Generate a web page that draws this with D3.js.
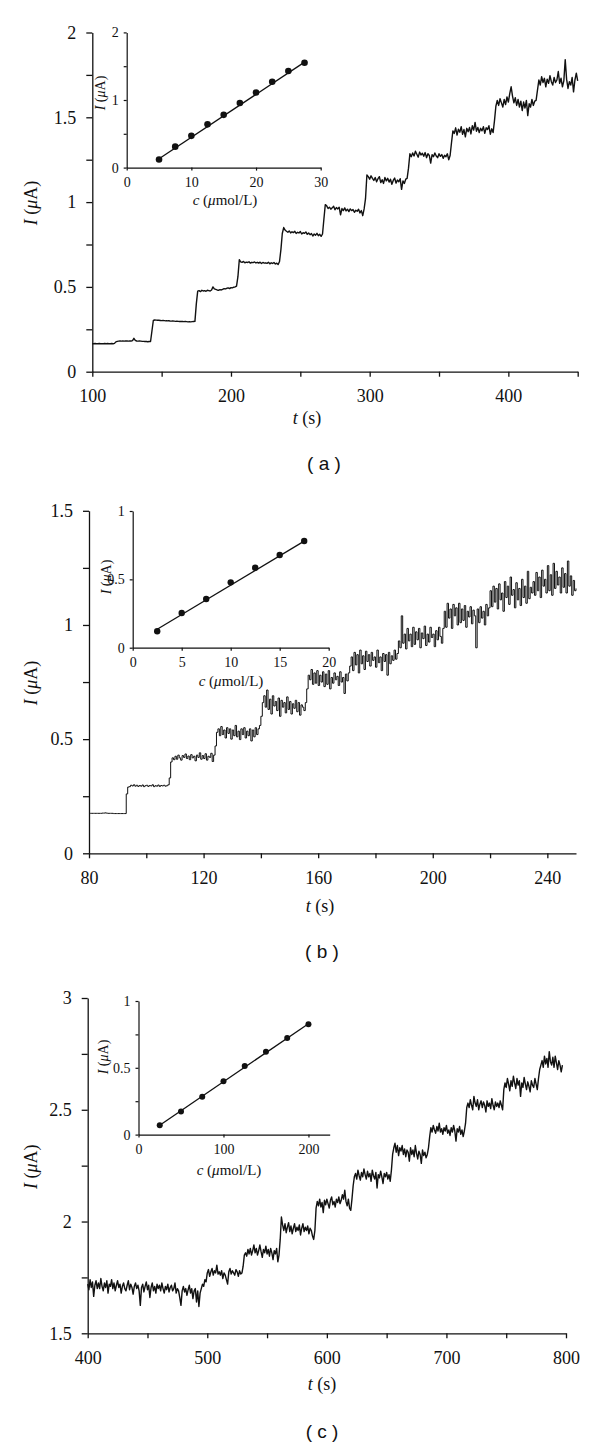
<!DOCTYPE html>
<html><head><meta charset="utf-8">
<script src="https://cdn.jsdelivr.net/npm/d3@7"></script>
<style>
body{margin:0;background:#fff;}
</style></head><body>
<svg id="chart" width="600" height="1446"></svg>
<script>
// ---------------- DATA ----------------
// Panel (a): current in nA, t = 100 .. 450 s, 1 s step
const aT0 = 100, aDt = 1;
const aCurrentNA = [
 165,165,166,165,165,166,165,165,165,166,
 165,166,165,165,166,165,167,
 176,179,180,181,180,181,180,182,181,180,
 181,181,183,197,185,181,180,181,180,179,
 179,178,178,177,178,178,
 240,
 302,305,304,303,303,302,301,302,301,300,
 300,301,299,298,299,298,297,298,297,296,
 296,297,295,296,295,294,295,294,295,296,297,
 400,
 475,478,472,480,476,478,474,480,478,476,
 482,500,488,485,482,480,484,482,486,490,
 488,492,494,490,496,494,498,500,505,
 560,
 660,648,645,650,642,646,644,648,640,645,
 643,647,641,645,640,646,638,644,640,642,
 639,645,636,642,638,644,635,640,632,650,
 720,
 815,850,835,828,822,830,818,825,820,828,
 815,822,818,826,812,820,816,824,810,818,
 808,815,800,812,805,816,802,810,798,812,
 900,
 985,978,962,970,958,966,975,955,968,960,
 970,925,962,950,966,948,958,944,960,950,
 956,940,952,946,958,936,950,920,960,
 1020,
 1160,1150,1135,1155,1140,1128,1145,1120,1138,1150,
 1115,1132,1110,1145,1125,1140,1118,1135,1105,1128,
 1142,1112,1130,1120,1138,1075,1125,1110,1135,1140,
 1200,
 1285,1268,1290,1272,1300,1282,1265,1295,1278,1288,
 1270,1292,1262,1285,1275,1230,1280,1268,1290,1272,
 1262,1285,1270,1280,1258,1276,1268,1285,1250,1275,
 1350,
 1420,1405,1438,1395,1430,1412,1445,1400,1428,1385,
 1435,1415,1440,1402,1450,1425,1470,1418,1440,1410,
 1435,1420,1445,1405,1438,1428,1450,1400,1432,1410,
 1480,
 1565,1600,1570,1610,1585,1560,1605,1575,1620,1590,
 1640,1680,1625,1585,1615,1570,1605,1560,1595,1540,
 1590,1555,1600,1510,1580,1560,1605,1570,1595,1600,
 1660,
 1720,1690,1740,1705,1730,1680,1725,1700,1745,1710,
 1690,1735,1705,1720,1770,1700,1730,1680,1715,1840,
 1725,1670,1710,1690,1735,1650,1720,1760,1715
];
const aInsetC = [5, 7.5, 10, 12.5, 15, 17.5, 20, 22.5, 25, 27.5];
const aInsetI = [0.12, 0.31, 0.47, 0.64, 0.78, 0.955, 1.11, 1.27, 1.43, 1.55];
const aFitC = [5, 27.5];
const aFitI = [0.13, 1.56];
const aXTicks = [100,150,200,250,300,350,400,450];
const aXLabels = [100,200,300,400];
const aYTicks = [0,0.25,0.5,0.75,1,1.25,1.5,1.75,2];
const aYLabels = [0,0.5,1,1.5,2];
const aInXTicks = [0,10,20,30];
const aInXLabels = [0,10,20,30];
const aInYTicks = [0,0.5,1,1.5,2];
const aInYLabels = [0,1,2];

// Panel (b): current in nA, t = 80 .. 250 s, 0.5 s step (one row = 5 s)
const bT0 = 80, bDt = 0.5;
const bCurrentNA = [
 175,175,175,175,175,175,175,175,175,176,
 176,177,176,175,175,175,175,174,174,174,
 174,174,174,174,174,174,260,290,292,298,
 295,300,294,298,293,297,294,299,292,296,
 298,293,297,295,300,292,296,294,299,293,
 297,295,298,294,296,300,330,400,418,410,
 425,412,430,418,408,428,420,435,415,426,
 410,432,418,425,405,430,420,440,412,428,
 415,436,408,425,420,438,402,430,470,530,
 545,515,555,520,540,505,550,525,545,500,
 540,515,560,510,535,498,545,520,550,505,
 535,515,545,492,540,510,550,520,545,560,
 600,660,690,640,715,630,675,610,690,645,
 665,625,680,600,670,640,660,615,685,630,
 665,610,655,635,670,620,660,605,650,640,
 625,660,720,780,760,805,740,790,745,800,
 735,780,750,795,730,785,740,800,720,770,
 745,790,760,775,735,795,750,770,700,785,
 755,790,820,860,800,880,825,870,790,890,
 830,865,805,885,840,870,820,880,845,860,
 815,890,835,860,800,875,840,870,780,880,
 830,865,845,890,850,875,930,900,1040,920,
 960,895,985,930,960,905,990,915,970,935,
 985,900,965,940,995,910,960,925,990,945,
 960,905,975,935,990,950,920,985,1060,990,
 1095,1030,1070,985,1090,1040,1075,1000,1095,1010,
 1070,1020,1085,990,1060,1035,1080,1005,1065,1040,
 900,1070,1010,1080,1030,1060,1000,1090,1040,1075,
 1150,1080,1170,1100,1160,1070,1180,1110,1140,1060,
 1190,1120,1170,1090,1210,1130,1155,1075,1185,1110,
 1160,1085,1200,1120,1170,1095,1235,1115,1165,1140,
 1190,1130,1230,1150,1210,1120,1240,1170,1200,1140,
 1260,1150,1220,1130,1270,1160,1235,1175,1210,1140,
 1250,1165,1225,1140,1280,1170,1215,1130,1195,1150,
 1160
];
const bInsetC = [2.5, 5, 7.5, 10, 12.5, 15, 17.5];
const bInsetI = [0.12, 0.254, 0.356, 0.478, 0.585, 0.678, 0.78];
const bFitC = [2.5, 17.5];
const bFitI = [0.135, 0.78];
const bXTicks = [80,100,120,140,160,180,200,220,240];
const bXLabels = [80,120,160,200,240];
const bYTicks = [0,0.25,0.5,0.75,1,1.25,1.5];
const bYLabels = [0,0.5,1,1.5];
const bInXTicks = [0,5,10,15,20];
const bInXLabels = [0,5,10,15,20];
const bInYTicks = [0,0.5,1];
const bInYLabels = [0,0.5,1];

// Panel (c): current in nA, t = 400 .. 797 s, 1 s step (one row = 10 s)
const cT0 = 400, cDt = 1;
const cCurrentNA = [
 1720,1695,1740,1705,1730,1665,1715,1735,1700,1725,
 1700,1745,1710,1690,1725,1705,1735,1680,1720,1710,
 1740,1700,1725,1690,1715,1735,1705,1720,1680,1710,
 1725,1700,1690,1715,1735,1695,1720,1705,1675,1710,
 1725,1700,1715,1690,1625,1705,1720,1685,1710,1730,
 1695,1715,1660,1705,1725,1690,1710,1680,1720,1700,
 1715,1690,1725,1700,1680,1710,1695,1720,1685,1705,
 1715,1690,1700,1725,1680,1700,1690,1660,1625,1690,
 1710,1685,1700,1670,1695,1715,1680,1700,1655,1690,
 1700,1640,1690,1620,1680,1700,1720,1710,1740,1730,
 1770,1785,1755,1775,1790,1760,1780,1770,1805,1765,
 1775,1760,1780,1745,1770,1760,1740,1720,1775,1790,
 1765,1780,1770,1760,1785,1775,1755,1780,1765,1770,
 1800,1850,1860,1845,1875,1855,1880,1850,1870,1895,
 1860,1880,1850,1870,1895,1865,1840,1875,1860,1890,
 1855,1875,1845,1880,1860,1830,1870,1855,1880,1820,
 1850,1920,2020,1985,1960,1990,1950,1975,1995,1955,
 1980,1945,1970,1990,1955,1975,1960,1985,1940,1970,
 1990,1955,1975,1960,1980,1945,1970,1960,1935,1920,
 1960,2060,2090,2070,2100,2065,2085,2040,2095,2075,
 2100,2080,2060,2095,2110,2075,2090,2065,2100,2085,
 2110,2080,2095,2120,2100,2140,2090,2070,2100,2060,
 2050,2100,2160,2200,2215,2190,2230,2205,2185,2220,
 2200,2235,2210,2190,2225,2200,2215,2180,2230,2205,
 2190,2220,2150,2210,2195,2225,2200,2170,2215,2200,
 2220,2190,2210,2180,2230,2300,2330,2350,2310,2340,
 2295,2330,2315,2340,2300,2325,2290,2320,2310,2270,
 2330,2300,2320,2290,2340,2305,2280,2315,2300,2260,
 2320,2295,2310,2285,2300,2330,2380,2420,2400,2430,
 2410,2395,2425,2405,2440,2400,2415,2390,2420,2405,
 2430,2395,2410,2385,2420,2400,2430,2405,2360,2415,
 2400,2425,2390,2410,2380,2405,2440,2510,2530,2510,
 2545,2520,2500,2560,2530,2515,2545,2500,2525,2540,
 2510,2535,2520,2490,2540,2515,2530,2505,2550,2520,
 2500,2535,2515,2530,2510,2540,2520,2500,2590,2620,
 2600,2640,2615,2585,2630,2605,2650,2620,2595,2640,
 2610,2630,2560,2620,2600,2645,2615,2590,2625,2605,
 2580,2630,2610,2600,2640,2615,2590,2640,2680,2700,
 2720,2690,2740,2705,2730,2690,2760,2715,2700,2735,
 2690,2740,2710,2680,2720,2700,2670,2700
];
const cInsetC = [25, 50, 75, 100, 125, 150, 175, 200];
const cInsetI = [0.07, 0.172, 0.284, 0.40, 0.513, 0.62, 0.723, 0.826];
const cFitC = [25, 200];
const cFitI = [0.07, 0.83];
const cXTicks = [400,450,500,550,600,650,700,750,800];
const cXLabels = [400,500,600,700,800];
const cYTicks = [1.5,1.75,2,2.25,2.5,2.75,3];
const cYLabels = [1.5,2,2.5,3];
const cInXTicks = [0,100,200];
const cInXLabels = [0,100,200];
const cInYTicks = [0,0.25,0.5,0.75,1];
const cInYLabels = [0,0.5,1];

// ---------------- DRAWING ----------------
const INK = "#111";
const SERIF = "'Liberation Serif','Times New Roman',serif";
const SANS = "'Liberation Sans',Arial,sans-serif";
const svg = d3.select("#chart");

function axes(g, x, y, xt, xl, yt, yl, o) {
  const fmt = labels => d => labels.includes(d) ? String(d) : "";
  const gx = g.append("g").attr("transform", `translate(0,${y.range()[0]})`)
    .call(d3.axisBottom(x).tickValues(xt).tickFormat(fmt(xl))
      .tickSize(o.tx).tickPadding(o.px).tickSizeOuter(0));
  const gy = g.append("g").attr("transform", `translate(${x.range()[0]},0)`)
    .call(d3.axisLeft(y).tickValues(yt).tickFormat(fmt(yl))
      .tickSize(o.ty).tickPadding(o.py).tickSizeOuter(0));
  [gx, gy].forEach(a => {
    a.attr("font-size", o.fs).attr("font-family", SERIF);
    a.selectAll("path,line").attr("stroke", INK).attr("stroke-width", o.sw);
    a.selectAll("text").attr("fill", INK).style("font-family", SERIF).style("font-size", o.fs + "px");
  });
}

function txt(g, fs) {
  return g.append("text").attr("fill", INK).style("font-family", SERIF)
    .style("font-size", fs + "px").attr("text-anchor", "middle");
}
function yTitle(g, xb, yc, fs) {
  const t = txt(g, fs).attr("transform", `translate(${xb},${yc}) rotate(-90)`);
  t.append("tspan").attr("font-style", "italic").text("I");
  t.append("tspan").text(" (");
  t.append("tspan").attr("font-style", "italic").text("μ");
  t.append("tspan").text("A)");
}
function tTitle(g, xc, yb, fs) {
  const t = txt(g, fs).attr("x", xc).attr("y", yb);
  t.append("tspan").attr("font-style", "italic").text("t");
  t.append("tspan").text(" (s)");
}
function cTitle(g, xc, yb, fs) {
  const t = txt(g, fs).attr("x", xc).attr("y", yb);
  t.append("tspan").attr("font-style", "italic").text("c");
  t.append("tspan").text(" (");
  t.append("tspan").attr("font-style", "italic").text("μ");
  t.append("tspan").text("mol/L)");
}

function panel(p) {
  const g = svg.append("g");
  const x = d3.scaleLinear().domain(p.xDom).range(p.xRange);
  const y = d3.scaleLinear().domain(p.yDom).range(p.yRange);
  axes(g, x, y, p.xt, p.xl, p.yt, p.yl, {tx:5, px:13, ty:6, py:10, fs:18, sw:1.3});
  const line = d3.line().curve(p.curve)
    .x((d, i) => x(p.t0 + i * p.dt)).y(d => y(d / 1000));
  g.append("path").datum(p.values).attr("d", line)
    .attr("fill", "none").attr("stroke", INK).attr("stroke-width", p.lw)
    .attr("stroke-linejoin", "round");

  // inset
  const xi = d3.scaleLinear().domain(p.ixDom).range(p.ixRange);
  const yi = d3.scaleLinear().domain(p.iyDom).range(p.iyRange);
  axes(g, xi, yi, p.ixt, p.ixl, p.iyt, p.iyl, {tx:3, px:6, ty:3, py:5, fs:14, sw:1.2});
  const fit = p.fitC.map((c, i) => [c, p.fitI[i]]);
  g.append("path").datum(fit)
    .attr("d", d3.line().x(d => xi(d[0])).y(d => yi(d[1])))
    .attr("stroke", INK).attr("stroke-width", 1.3).attr("fill", "none");
  g.selectAll(null).data(p.insC).enter().append("circle")
    .attr("cx", d => xi(d)).attr("cy", (d, i) => yi(p.insI[i]))
    .attr("r", p.r).attr("fill", INK);

  yTitle(g, 37, (p.yRange[0] + p.yRange[1]) / 2 + 1, 18);
  tTitle(g, p.tx, p.ty, 18);
  yTitle(g, p.iyLabX, p.iyLabY, 14);
  cTitle(g, p.icx, p.icy, 15);
  g.append("text").attr("fill", INK).style("font-family", SANS).style("font-size", "19px")
    .attr("x", p.capX).attr("y", p.capY).attr("text-anchor", "middle").text(p.cap);
}

panel({
  values: aCurrentNA, t0: aT0, dt: aDt, curve: d3.curveLinear, lw: 1.4,
  xDom: [100, 450], xRange: [92.3, 577.7], yDom: [0, 2], yRange: [371.7, 32.5],
  xt: aXTicks, xl: aXLabels, yt: aYTicks, yl: aYLabels,
  ixDom: [0, 30], ixRange: [126.7, 320.7], iyDom: [0, 2], iyRange: [167.6, 32.4],
  ixt: aInXTicks, ixl: aInXLabels, iyt: aInYTicks, iyl: aInYLabels,
  insC: aInsetC, insI: aInsetI, fitC: aFitC, fitI: aFitI, r: 3.3,
  tx: 307, ty: 424, iyLabX: 105, iyLabY: 93, icx: 225, icy: 205,
  cap: "( a )", capX: 324, capY: 470
});
panel({
  values: bCurrentNA, t0: bT0, dt: bDt, curve: d3.curveStepAfter, lw: 1,
  xDom: [80, 250], xRange: [89, 576], yDom: [0, 1.5], yRange: [853.3, 510.8],
  xt: bXTicks, xl: bXLabels, yt: bYTicks, yl: bYLabels,
  ixDom: [0, 20], ixRange: [132.7, 328.7], iyDom: [0, 1], iyRange: [647.7, 511],
  ixt: bInXTicks, ixl: bInXLabels, iyt: bInYTicks, iyl: bInYLabels,
  insC: bInsetC, insI: bInsetI, fitC: bFitC, fitI: bFitI, r: 3.2,
  tx: 320, ty: 912, iyLabX: 111, iyLabY: 577, icx: 231, icy: 686,
  cap: "( b )", capX: 322, capY: 958
});
panel({
  values: cCurrentNA, t0: cT0, dt: cDt, curve: d3.curveLinear, lw: 1.4,
  xDom: [400, 800], xRange: [87.7, 566], yDom: [1.5, 3], yRange: [1333.3, 998],
  xt: cXTicks, xl: cXLabels, yt: cYTicks, yl: cYLabels,
  ixDom: [0, 225], ixRange: [138.5, 329.7], iyDom: [0, 1], iyRange: [1134.6, 1001],
  ixt: cInXTicks, ixl: cInXLabels, iyt: cInYTicks, iyl: cInYLabels,
  insC: cInsetC, insI: cInsetI, fitC: cFitC, fitI: cFitI, r: 3,
  tx: 322, ty: 1390, iyLabX: 108, iyLabY: 1057, icx: 229, icy: 1175,
  cap: "( c )", capX: 322, capY: 1438
});
</script>
</body></html>
